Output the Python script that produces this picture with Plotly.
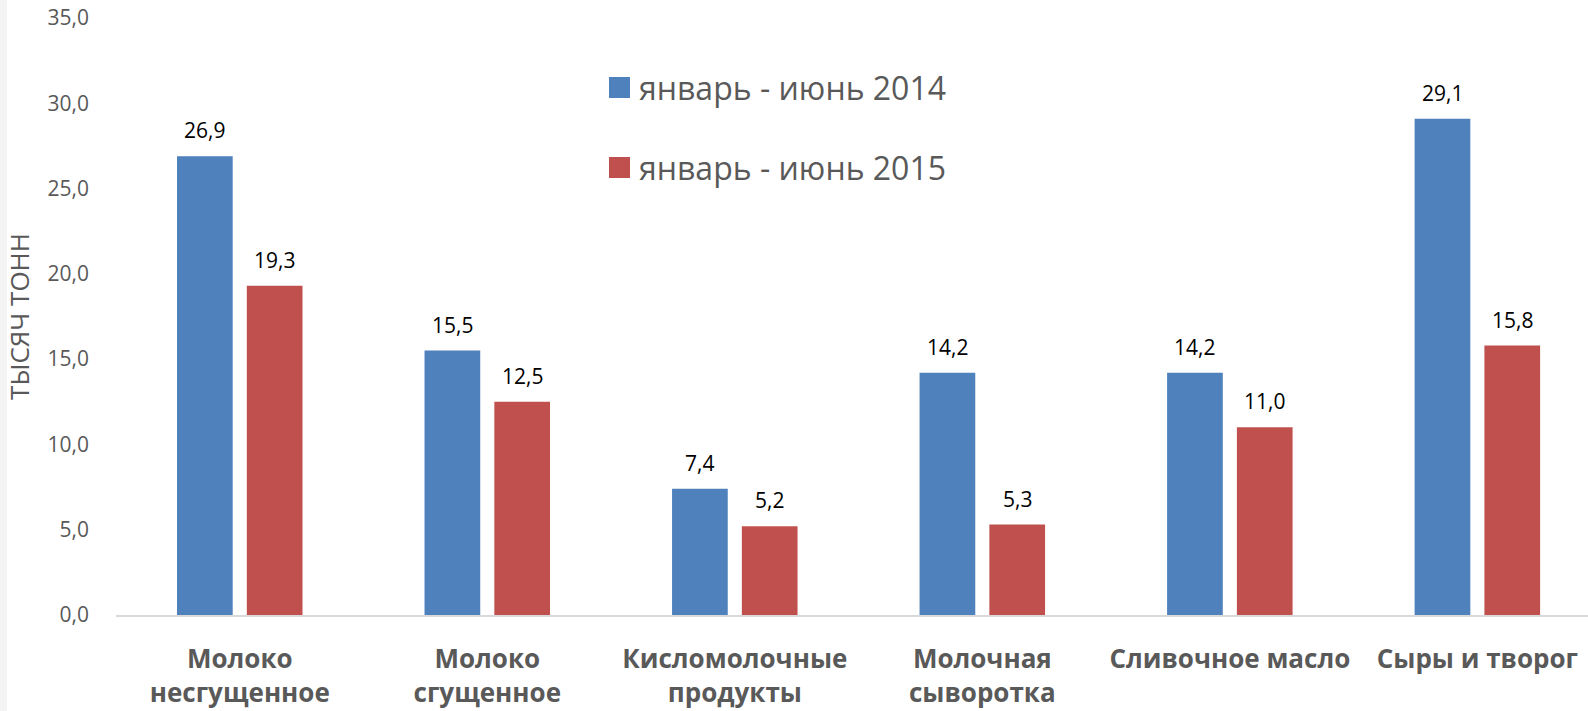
import plotly.graph_objects as go

categories = ["Молоко<br>несгущенное", "Молоко<br>сгущенное", "Кисломолочные<br>продукты",
              "Молочная<br>сыворотка", "Сливочное масло", "Сыры и творог"]
series_names = ["январь - июнь 2014", "январь - июнь 2015"]
values_2014 = [26.9, 15.5, 7.4, 14.2, 14.2, 29.1]
values_2015 = [19.3, 12.5, 5.2, 5.3, 11.0, 15.8]
y_ticks = [0, 5, 10, 15, 20, 25, 30, 35]
y_title = "ТЫСЯЧ ТОНН"

BLUE = "#4F81BD"
RED = "#C0504D"
GRAY = "#595959"
FONT = "Open Sans"

W, H = 1588, 711
ML, MR, MT, MB = 116, 0, 18, 96
PW = W - ML - MR
PH = H - MT - MB


def px_x(p):
    return (p - ML) / PW


def px_y(p):
    return 1 - (p - MT) / PH


fig = go.Figure()
for name, vals, col in [(series_names[0], values_2014, BLUE), (series_names[1], values_2015, RED)]:
    fig.add_trace(go.Bar(x=categories, y=vals, name=name, marker_color=col,
                         marker_line_width=0, showlegend=False))

annotations = []
for vals, shift in [(values_2014, -34.9), (values_2015, 34.9)]:
    for c, v in zip(categories, vals):
        annotations.append(dict(x=c, y=v, xref="x", yref="y", text=f"{v:.1f}".replace(".", ","),
                                showarrow=False, xshift=shift, yshift=10, yanchor="bottom",
                                font=dict(family=FONT, size=21, color="#000000")))

shapes = []
legend_rows = [(series_names[0], BLUE, 87.5), (series_names[1], RED, 167.5)]
for name, col, cy in legend_rows:
    shapes.append(dict(type="rect", xref="paper", yref="paper", x0=px_x(609), x1=px_x(630),
                       y0=px_y(cy + 10.5), y1=px_y(cy - 10.5), fillcolor=col, line_width=0))
    annotations.append(dict(x=px_x(637), y=px_y(cy), xref="paper", yref="paper", text=name,
                            showarrow=False, xanchor="left", yanchor="middle",
                            font=dict(family=FONT, size=32, color=GRAY)))

# faint left edge band
shapes.append(dict(type="rect", xref="paper", yref="paper", x0=px_x(0), x1=px_x(7), y0=px_y(H), y1=px_y(0),
                   fillcolor="#f4f4f4", line_width=0, layer="below"))

fig.update_layout(
    width=W, height=H,
    margin=dict(l=ML, r=MR, t=MT, b=MB, autoexpand=False),
    plot_bgcolor="white", paper_bgcolor="white",
    barmode="group", bargap=0.436, bargroupgap=0.202,
    separators=", ",
    font=dict(family=FONT, color=GRAY),
    annotations=annotations, shapes=shapes,
    showlegend=False,
)
fig.update_xaxes(
    range=[-0.5, 5.447], showgrid=False, showline=True, linecolor="#D9D9D9", linewidth=2,
    ticks="", ticklabelstandoff=20,
    tickfont=dict(family=FONT, size=26, color=GRAY, weight="bold"),
)
fig.update_yaxes(
    range=[0, 35], tickvals=y_ticks, tickformat=".1f", showgrid=False, showline=False,
    zeroline=False, ticks="", ticklabelstandoff=26,
    tickfont=dict(family=FONT, size=21, color=GRAY),
    title=dict(text=y_title, font=dict(family=FONT, size=26, color=GRAY), standoff=10),
)

fig.write_html("out.html", config={"displayModeBar": False},
               post_script="document.body.style.margin='0';document.body.style.overflow='hidden';")
